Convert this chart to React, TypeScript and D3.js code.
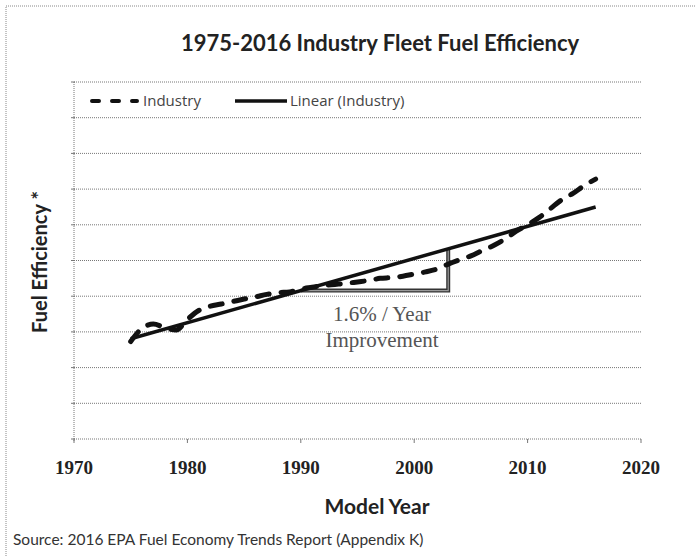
import React from "react";
import * as d3 from "d3";

const years: number[] = d3.range(1975, 2017);
const industry: number[] = [
  2.73, 3.1, 3.22, 3.12, 3.05, 3.35, 3.6, 3.72, 3.78, 3.85,
  3.92, 3.98, 4.05, 4.1, 4.12, 4.2, 4.25, 4.3, 4.33, 4.36,
  4.4, 4.44, 4.5, 4.52, 4.56, 4.62, 4.68, 4.76, 4.9, 5.02,
  5.13, 5.28, 5.42, 5.6, 5.82, 6.0, 6.2, 6.45, 6.7, 6.88,
  7.1, 7.28,
];
const xTicks: number[] = [1970, 1980, 1990, 2000, 2010, 2020];
const yTicks: number[] = d3.range(0, 11);
const triangleYears: number[] = [1990, 2003];
const annotationLines: string[] = ["1.6% / Year", "Improvement"];

const W = 696;
const H = 556;
const left = 74;
const right = 641;
const top = 82;
const bottom = 439;

export default function App() {
  const x = d3.scaleLinear().domain([1970, 2020]).range([left, right]);
  const y = d3.scaleLinear().domain([0, 10]).range([bottom, top]);

  // least squares linear trend
  const mx = d3.mean(years)!;
  const my = d3.mean(industry)!;
  let num = 0;
  let den = 0;
  years.forEach((yr, i) => {
    num += (yr - mx) * (industry[i] - my);
    den += (yr - mx) * (yr - mx);
  });
  const slope = num / den;
  const icpt = my - slope * mx;
  const trend = (yr: number) => icpt + slope * yr;

  const line = d3
    .line<number>()
    .x((_, i) => x(years[i]))
    .y((d) => y(d))
    .curve(d3.curveMonotoneX);

  const y0 = years[0];
  const y1 = years[years.length - 1];
  const [t0, t1] = triangleYears;
  const triPath = `M${x(t0)},${y(trend(t0))} L${x(t1)},${y(trend(t0))} L${x(t1)},${y(trend(t1))}`;

  const sans = "Lato, 'Open Sans', sans-serif";
  const light = "'Open Sans', Lato, sans-serif";
  const serif = "'Liberation Serif', 'DejaVu Serif', serif";

  return (
    <svg width={W} height={H} style={{ position: "absolute", left: 0, top: 0, background: "#fff" }}>
      <rect x={6} y={6} width={800} height={800} fill="none" stroke="#888" strokeWidth={1} strokeDasharray="1,1" />
      <text x={380} y={51} textAnchor="middle" fontFamily={sans} fontWeight="bold" fontSize={22} fill="#222">
        1975-2016 Industry Fleet Fuel Efficiency
      </text>

      {/* gridlines */}
      {yTicks.map((t) => (
        <g key={t}>
          <line x1={left} x2={right} y1={y(t)} y2={y(t)} stroke="#777" strokeWidth={1} strokeDasharray="1,1" />
          <line x1={left - 3} x2={left + 1} y1={y(t)} y2={y(t)} stroke="#777" strokeWidth={1} />
        </g>
      ))}
      <line x1={left} x2={left} y1={top} y2={bottom + 2} stroke="#777" strokeWidth={1} strokeDasharray="1,1" />
      {xTicks.map((t) => (
        <g key={t}>
          <line x1={x(t)} x2={x(t)} y1={bottom} y2={bottom + 4} stroke="#777" strokeWidth={1} />
          <text x={x(t)} y={474} textAnchor="middle" fontFamily={serif} fontWeight="bold" fontSize={19} fill="#222">
            {t}
          </text>
        </g>
      ))}

      {/* legend */}
      <line x1={92} x2={137} y1={101} y2={101} stroke="#111" strokeWidth={4} strokeLinecap="round" strokeDasharray="7,13" />
      <text x={143} y={106} fontFamily={light} fontSize={15} fill="#444">Industry</text>
      <line x1={235} x2={287} y1={101} y2={101} stroke="#111" strokeWidth={3.5} />
      <text x={290} y={106} fontFamily={light} fontSize={15} fill="#444">Linear (Industry)</text>

      {/* triangle */}
      <path d={triPath} fill="none" stroke="#333" strokeWidth={4} />
      <path d={triPath} fill="none" stroke="#999" strokeWidth={1.2} />

      {/* trend */}
      <line x1={x(y0)} x2={x(y1)} y1={y(trend(y0))} y2={y(trend(y1))} stroke="#111" strokeWidth={3.5} />
      {/* industry */}
      <path d={line(industry) ?? ""} fill="none" stroke="#111" strokeWidth={5} strokeLinecap="round" strokeDasharray="12,12" />

      {annotationLines.map((s, i) => (
        <text key={s} x={382} y={321 + i * 26} textAnchor="middle" fontFamily={serif} fontSize={21} fill="#555">
          {s}
        </text>
      ))}

      <text transform="translate(47,262) rotate(-90)" textAnchor="middle" fontFamily={sans} fontWeight="bold" fontSize={20} fill="#222">
        Fuel Efficiency *
      </text>
      <text x={377} y={514} textAnchor="middle" fontFamily={sans} fontWeight="bold" fontSize={21} fill="#222">
        Model Year
      </text>
      <text x={13} y={545} fontFamily={sans} fontSize={15.5} fill="#333">
        Source: 2016 EPA Fuel Economy Trends Report (Appendix K)
      </text>
    </svg>
  );
}
